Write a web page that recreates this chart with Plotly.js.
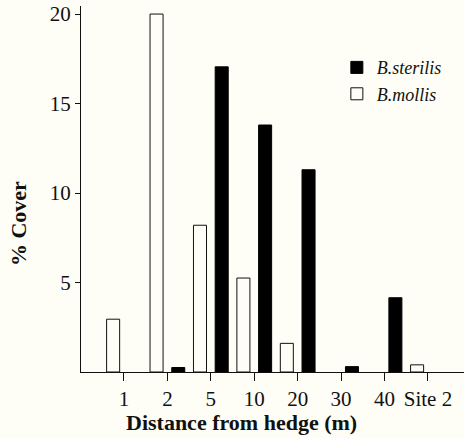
<!DOCTYPE html>
<html>
<head>
<meta charset="utf-8">
<script src="https://cdn.plot.ly/plotly-3.0.1.min.js"></script>
<style>
html,body{margin:0;padding:0;background:#fefef6;}
#chart{width:464px;height:438px;}
</style>
</head>
<body>
<div id="chart"></div>
<script>
const categories = ["1", "2", "5", "10", "20", "30", "40", "Site 2"];
const mollisValues = [2.95, 20.0, 8.2, 5.25, 1.6, null, null, 0.4];
const sterilisValues = [null, 0.25, 17.05, 13.8, 11.3, 0.3, 4.15, null];
const xTitle = "Distance from hedge (m)";
const yTitle = "% Cover";

const traces = [
  {
    type: "bar",
    name: "B.mollis",
    x: categories,
    y: mollisValues,
    legendgroup: "m",
    legendrank: 2,
    marker: {color: "#fefef6", line: {color: "#111", width: 1}},
    hoverinfo: "skip"
  },
  {
    type: "bar",
    name: "B.sterilis",
    x: categories,
    y: sterilisValues,
    legendgroup: "s",
    legendrank: 1,
    marker: {color: "#000", line: {color: "#000", width: 1}},
    hoverinfo: "skip"
  }
];

const serif = "Liberation Serif, Times New Roman, serif";
const layout = {
  width: 464,
  height: 438,
  margin: {l: 81, r: 0, t: 6, b: 66, pad: 0},
  paper_bgcolor: "#fefef6",
  plot_bgcolor: "#fefef6",
  barmode: "group",
  bargap: 0,
  bargroupgap: 0.4,
  font: {family: serif, color: "#111", size: 21},
  xaxis: {
    type: "category",
    range: [-0.99, 7.83],
    showgrid: false,
    zeroline: false,
    showline: true,
    linecolor: "#111",
    linewidth: 1,
    ticks: "outside",
    ticklen: 8,
    tickcolor: "#111",
    tickfont: {family: serif, size: 21, color: "#111"}
  },
  yaxis: {
    range: [0, 20.45],
    tickvals: [5, 10, 15, 20],
    ticktext: ["5", "10", "15", "20"],
    showgrid: false,
    zeroline: false,
    showline: true,
    linecolor: "#111",
    linewidth: 1,
    ticks: "outside",
    ticklen: 5,
    tickcolor: "#111",
    tickfont: {family: serif, size: 21, color: "#111"}
  },
  annotations: [
    {
      text: xTitle, xref: "paper", yref: "paper", x: 0.419, y: -0.139,
      xanchor: "center", yanchor: "middle", showarrow: false,
      font: {family: serif, size: 22, color: "#111", weight: "bold"}
    },
    {
      text: yTitle, xref: "paper", yref: "paper", x: -0.1645, y: 0.407,
      xanchor: "center", yanchor: "middle", showarrow: false, textangle: -90,
      font: {family: serif, size: 22, color: "#111", weight: "bold"}
    }
  ],
  showlegend: true,
  legend: {
    x: 0.668,
    y: 0.882,
    xanchor: "left",
    yanchor: "top",
    traceorder: "grouped",
    tracegroupgap: 0,
    bgcolor: "rgba(0,0,0,0)",
    font: {family: serif, size: 18, color: "#111", style: "italic"}
  }
};

Plotly.newPlot("chart", traces, layout, {displayModeBar: false, staticPlot: true});
</script>
</body>
</html>
